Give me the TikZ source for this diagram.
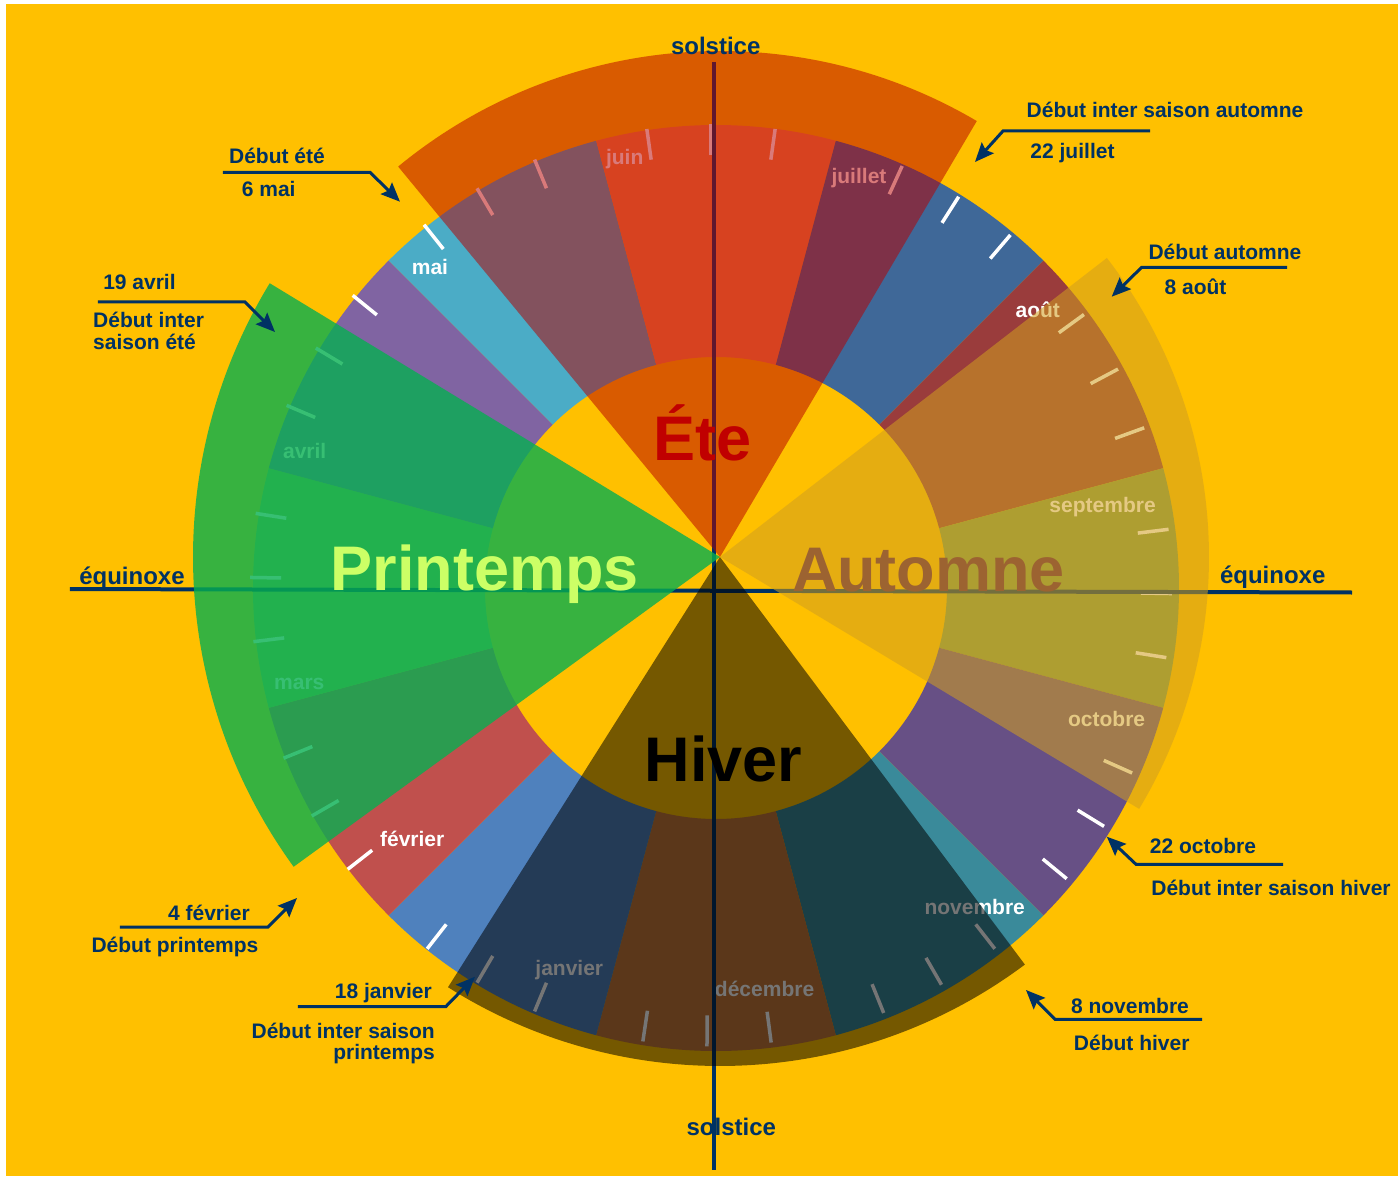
\documentclass[tikz,border=0pt]{standalone}
\usepackage{fontspec}
\setmainfont{Liberation Sans}
\usetikzlibrary{arrows.meta}

\definecolor{fond}{RGB}{255,192,0}
\definecolor{marine}{RGB}{0,50,100}
% couleurs des mois
\definecolor{cmai}{RGB}{75,172,198}
\definecolor{cjuin}{RGB}{250,140,67}
\definecolor{cjuil}{RGB}{63,104,152}
\definecolor{caout}{RGB}{154,60,60}
\definecolor{csept}{RGB}{132,157,72}
\definecolor{coct}{RGB}{103,80,133}
\definecolor{cnov}{RGB}{58,138,154}
\definecolor{cdec}{RGB}{200,122,57}
\definecolor{cjanv}{RGB}{79,129,189}
\definecolor{cfevr}{RGB}{192,80,77}
\definecolor{cmars}{RGB}{150,188,70}
\definecolor{cavr}{RGB}{128,100,162}
% voiles des saisons
\definecolor{vete}{RGB}{184,0,0}
\definecolor{vprin}{RGB}{6,175,81}
\definecolor{vaut}{RGB}{208,159,32}
% textes des saisons
\definecolor{tete}{RGB}{192,0,0}
\definecolor{tprin}{RGB}{204,255,102}
\definecolor{taut}{RGB}{156,99,49}

\begin{document}
\begin{tikzpicture}[x=1pt, y=1pt,
 lbl/.style={font=\bfseries\fontsize{21}{21}\selectfont, text=marine, inner sep=0pt, anchor=base},
 axelbl/.style={lbl, font=\bfseries\fontsize{24}{24}\selectfont},
 mois/.style={font=\bfseries\fontsize{21}{21}\selectfont, text=white, inner sep=0pt, anchor=base},
 saison/.style={font=\bfseries\fontsize{63}{63}\selectfont, inner sep=0pt, anchor=base},
 axe/.style={draw=marine, line width=4pt},
 lead/.style={draw=marine, line width=3pt, -{Stealth[length=19pt,width=16pt,inset=3pt]}},
 cran/.style={draw=white, line width=3.5pt},
]
\useasboundingbox (-716,-588) rectangle (682,588);
\fill[white] (-716,-588) rectangle (682,588);
\fill[fond] (-710,-588) rectangle (682,584);

% couronne des mois
\foreach \a/\b/\c in {135/105/cmai, 105/75/cjuin, 75/45/cjuil, 45/15/caout,
  15/-15/csept, -15/-45/coct, -45/-75/cnov, -75/-105/cdec,
  -105/-135/cjanv, -135/-165/cfevr, -165/-195/cmars, -195/-225/cavr}
  \fill[\c] (\a:231pt) -- (\a:463pt) arc[start angle=\a, end angle=\b, radius=463pt]
    -- (\b:231pt) arc[start angle=\b, end angle=\a, radius=231pt] -- cycle;

% semaines
\begin{scope}[shift={(-5,2.5)}]
\foreach \t in {128.5,120.5,112.5, 98,90,82, 65.5,57.5,49.5, 36,28,20,
  7,-1,-9, -24,-31.5,-39.5, -52,-60,-68, -82.5,-90.5,-98.5,
  -112.5,-120.5,-128, -142,-150,-158, 171,179,187, 141,149,157}
  \draw[cran] (\t:430pt) -- (\t:461pt);
\end{scope}

\node[mois] (mai) at (-286,313) {mai};
\node[mois] (juin) at (-91.3,423) {juin};
\node[mois] (juillet) at (143,404.7) {juillet};
\node[mois] (aout) at (321.8,270.7) {août};
\node[mois] (sept) at (386.6,75.3) {septembre};
\node[mois] (oct) at (390.6,-138) {octobre};
\node[mois] (nov) at (258.7,-326.3) {novembre};
\node[mois] (dec) at (48.6,-408.7) {décembre};
\node[mois] (janv) at (-146.7,-387.7) {janvier};
\node[mois] (fevr) at (-303.8,-258.7) {février};
\node[mois] (mars) at (-416.7,-101.3) {mars};
\node[mois] (avril) at (-411.3,129.7) {avril};

% solstices et equinoxes
\coordinate (sol-h) at (-1.5,526);
\coordinate (sol-b) at (-1.5,-582);
\coordinate (eq-g) at (-646,-1);
\coordinate (eq-d) at (636,-4.5);
\draw[axe] (sol-h) -- (sol-b);
\draw[axe] (eq-g) -- (eq-d);

% saisons
\coordinate (apex) at (4,31);
\fill[vete, fill opacity=0.52] (apex) -- ++(59.5:506pt)
  arc[start angle=59.5, end angle=129.5, radius=506pt] -- cycle;
\fill[vprin, fill opacity=0.8] (apex) -- ++(148.7:527pt)
  arc[start angle=148.7, end angle=216, radius=527pt] -- cycle;
\fill[black, fill opacity=0.54] (apex) -- ++(237.7:509pt)
  arc[start angle=237.7, end angle=306.8, radius=509pt] -- cycle;
\fill[vaut, fill opacity=0.554] (apex) -- ++(-31:489pt)
  arc[start angle=-31, end angle=37.7, radius=489pt] -- cycle;

\node[saison, text=tete] (ete) at (-13,128) {Éte};
\node[saison, text=tprin] (printemps) at (-231,-2) {Printemps};
\node[saison, text=taut] (automne) at (212.5,-3) {Automne};
\node[saison, text=black] (hiver) at (7.5,-193.7) {Hiver};

\node[axelbl] (sol-t1) at (-0.3,533) {solstice};
\node[axelbl] (sol-t2) at (15.3,-547) {solstice};
\node[axelbl] (eq-t1) at (-584,4) {équinoxe};
\node[axelbl] (eq-t2) at (556.7,5) {équinoxe};

% reperes de dates
\node[lbl] (t-autinter) at (449,470) {Début inter saison automne};
\node[lbl] (t-22juil) at (356.5,429) {22 juillet};
\node[lbl] (t-ete) at (-439,424) {Début été};
\node[lbl] (t-6mai) at (-447.3,391.3) {6 mai};
\node[lbl] (t-19avr) at (-576.5,298) {19 avril};
\node[lbl, anchor=base west] (t-eteinter1) at (-623,260) {Début inter};
\node[lbl, anchor=base west] (t-eteinter2) at (-623,239) {saison été};
\node[lbl] (t-aut) at (509,328) {Début automne};
\node[lbl] (t-8aout) at (479.5,293) {8 août};
\node[lbl] (t-22oct) at (487,-265.3) {22 octobre};
\node[lbl] (t-hivinter) at (555,-307) {Début inter saison hiver};
\node[lbl] (t-8nov) at (414,-425.3) {8 novembre};
\node[lbl] (t-hiv) at (415.7,-462) {Début hiver};
\node[lbl] (t-4fev) at (-507,-332) {4 février};
\node[lbl] (t-prin) at (-541,-364) {Début printemps};
\node[lbl] (t-18janv) at (-332.7,-410.3) {18 janvier};
\node[lbl, anchor=base east] (t-prininter1) at (-281,-450.3) {Début inter saison};
\node[lbl, anchor=base east] (t-prininter2) at (-281,-471.5) {printemps};

\coordinate (ai-s) at (434,457);   \coordinate (ai-b) at (287,457);   \coordinate (ai-t) at (259,426);
\coordinate (de-s) at (-493,415.7); \coordinate (de-b) at (-346,415.7); \coordinate (de-t) at (-316,386.3);
\coordinate (ie-s) at (-618,286);  \coordinate (ie-b) at (-471,286);  \coordinate (ie-t) at (-441,256);
\coordinate (da-s) at (571,320.7); \coordinate (da-b) at (425.7,320.7); \coordinate (da-t) at (395.7,291.3);
\coordinate (ih-s) at (567,-276.3); \coordinate (ih-b) at (420,-276.3); \coordinate (ih-t) at (390.8,-248.7);
\coordinate (dh-s) at (486,-431.3); \coordinate (dh-b) at (339,-431.3); \coordinate (dh-t) at (310,-402);
\coordinate (dp-s) at (-596,-339); \coordinate (dp-b) at (-448,-339); \coordinate (dp-t) at (-419,-310);
\coordinate (ip-s) at (-418,-418.7); \coordinate (ip-b) at (-270.3,-418.7); \coordinate (ip-t) at (-241,-388.7);

\draw[lead] (ai-s) -- (ai-b) -- (ai-t);
\draw[lead] (de-s) -- (de-b) -- (de-t);
\draw[lead] (ie-s) -- (ie-b) -- (ie-t);
\draw[lead] (da-s) -- (da-b) -- (da-t);
\draw[lead] (ih-s) -- (ih-b) -- (ih-t);
\draw[lead] (dh-s) -- (dh-b) -- (dh-t);
\draw[lead] (dp-s) -- (dp-b) -- (dp-t);
\draw[lead] (ip-s) -- (ip-b) -- (ip-t);
\end{tikzpicture}
\end{document}
